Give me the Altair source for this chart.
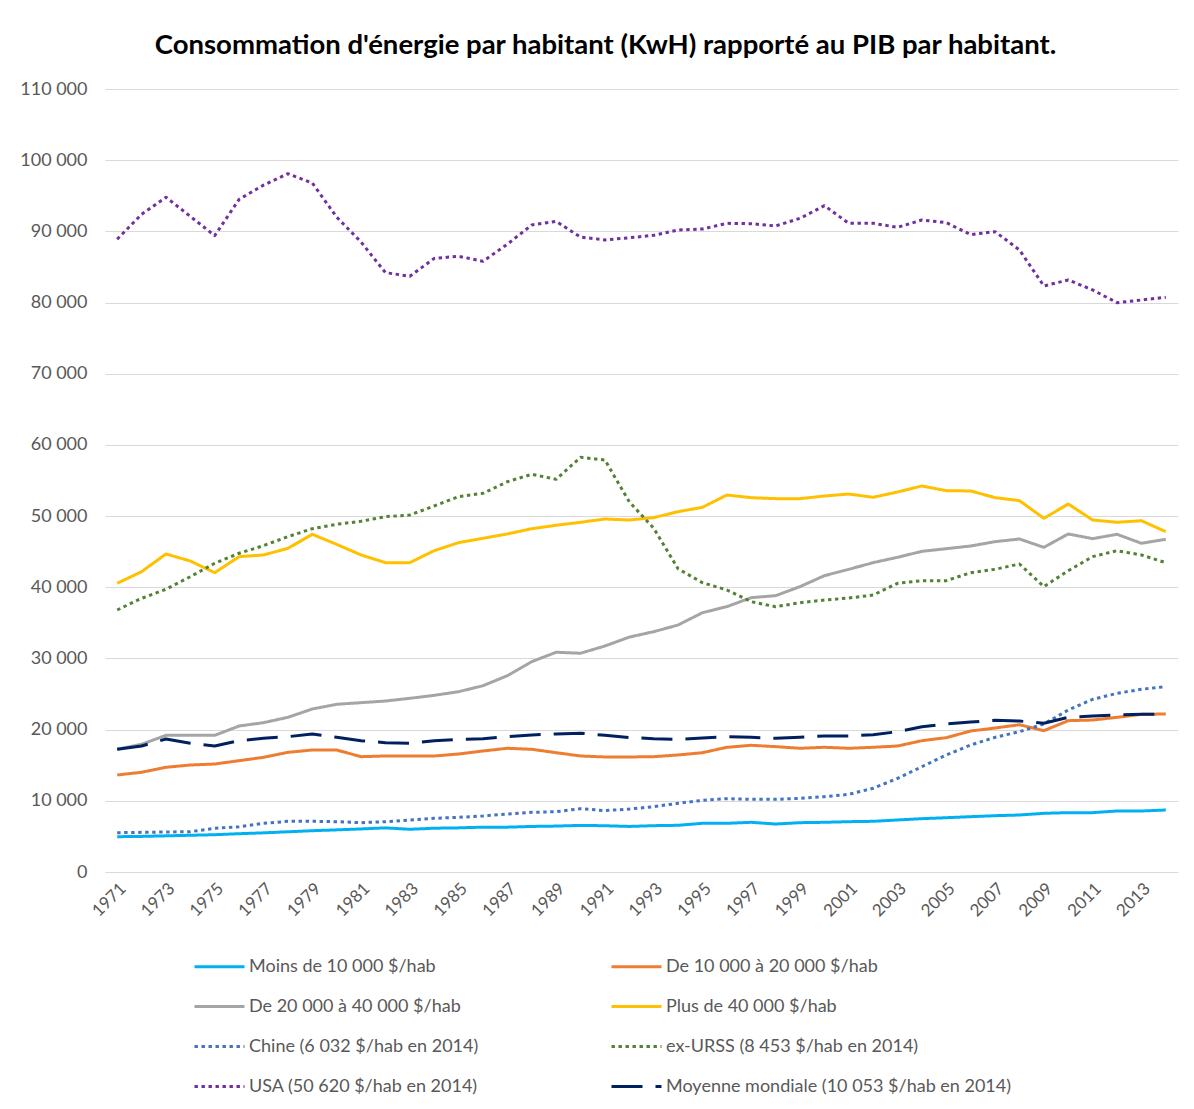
import altair as alt
import pandas as pd

years = list(range(1971, 2015))

series_names = [
    "Moins de 10 000 $/hab",
    "De 10 000 à 20 000 $/hab",
    "De 20 000 à 40 000 $/hab",
    "Plus de 40 000 $/hab",
    "Chine (6 032 $/hab en 2014)",
    "ex-URSS (8 453 $/hab en 2014)",
    "USA (50 620 $/hab en 2014)",
    "Moyenne mondiale (10 053 $/hab en 2014)",
]

moins_10k = [4960, 5000, 5080, 5160, 5240, 5380, 5500, 5650, 5800, 5920, 6050,
             6200, 6000, 6150, 6200, 6300, 6300, 6400, 6450, 6550, 6500, 6400,
             6510, 6560, 6840, 6840, 6980, 6740, 6930, 6980, 7070, 7120, 7310,
             7490, 7630, 7770, 7910, 8010, 8240, 8340, 8340, 8570, 8570, 8710]
de_10_20k = [13630, 14010, 14710, 15030, 15170, 15640, 16110, 16810, 17140, 17140, 16200,
             16300, 16300, 16300, 16580, 17000, 17380, 17240, 16760, 16300, 16160, 16160,
             16200, 16440, 16760, 17520, 17800, 17610, 17380, 17520, 17380, 17520, 17700,
             18450, 18870, 19810, 20230, 20690, 19850, 21260, 21350, 21730, 22150, 22200]
de_20_40k = [17240, 17940, 19200, 19200, 19200, 20510, 20980, 21730, 22900, 23560, 23790,
             24020, 24400, 24820, 25330, 26170, 27580, 29550, 30870, 30730, 31750, 33000,
             33760, 34700, 36430, 37280, 38540, 38820, 40090, 41630, 42520, 43460, 44210,
             45050, 45420, 45800, 46410, 46780, 45610, 47490, 46830, 47440, 46180, 46740]
plus_40k = [40560, 42190, 44680, 43690, 42050, 44300, 44540, 45470, 47440, 46030, 44540,
            43460, 43460, 45140, 46270, 46880, 47490, 48230, 48710, 49130, 49590, 49450,
            49780, 50620, 51230, 52960, 52590, 52450, 52450, 52820, 53100, 52640, 53390,
            54230, 53570, 53530, 52590, 52170, 49690, 51700, 49450, 49130, 49350, 47810]
chine = [5520, 5570, 5620, 5670, 6130, 6370, 6840, 7120, 7120, 7070, 6930,
         7070, 7310, 7540, 7680, 7870, 8150, 8380, 8470, 8900, 8620, 8850,
         9180, 9650, 10070, 10300, 10210, 10210, 10350, 10580, 10910, 11760, 13160,
         14800, 16440, 17840, 18920, 19710, 20790, 22760, 24260, 25100, 25670, 26040]
ex_urss = [36810, 38450, 39720, 41490, 43370, 44780, 45850, 47110, 48230, 48850, 49270,
           49920, 50150, 51420, 52730, 53200, 54830, 55870, 55170, 58260, 57880, 52000,
           48300, 42600, 40640, 39620, 37970, 37270, 37830, 38210, 38490, 38910, 40560,
           40930, 40930, 42050, 42520, 43270, 40090, 42330, 44300, 45140, 44540, 43460]
usa = [88900, 92400, 94800, 92100, 89400, 94500, 96500, 98100, 96800, 92000, 88500,
       84200, 83700, 86200, 86500, 85800, 88200, 90900, 91400, 89200, 88800, 89100,
       89450, 90190, 90330, 91130, 91080, 90760, 91830, 93610, 91130, 91130, 90570,
       91600, 91220, 89540, 89960, 87390, 82330, 83170, 81770, 79980, 80360, 80740]
moyenne = [17240, 17700, 18690, 18080, 17700, 18450, 18780, 19010, 19390, 18920, 18450,
           18170, 18080, 18450, 18640, 18730, 19010, 19250, 19390, 19490, 19200, 18900,
           18730, 18640, 18830, 19010, 18920, 18780, 18920, 19110, 19110, 19290, 19710,
           20410, 20790, 21070, 21310, 21210, 20890, 21730, 21920, 22060, 22150, 22150]

all_values = [moins_10k, de_10_20k, de_20_40k, plus_40k, chine, ex_urss, usa, moyenne]

colors = ["#00B0F0", "#ED7D31", "#A5A5A5", "#FFC000", "#4472C4", "#548235", "#7030A0", "#002060"]
solid = [1, 0]
dot = [3.4, 3.6]
dash = [31, 13]
dashes = [solid, solid, solid, solid, dot, dot, dot, dash]
widths = [3, 3, 3, 3, 3.4, 3.4, 3.4, 4.5]

# legend reads row by row (two columns), entries fill column-first
legend_order = [0, 2, 4, 6, 1, 3, 5, 7]
dom = [series_names[i] for i in legend_order]
col_rng = [colors[i] for i in legend_order]
dash_rng = [dashes[i] for i in legend_order]
width_rng = [widths[i] for i in legend_order]

rows = []
for name, vals in zip(series_names, all_values):
    for yr, v in zip(years, vals):
        rows.append({"annee": yr, "serie": name, "valeur": v})
df = pd.DataFrame(rows)

odd_years = [y for y in years if (y - 1971) % 2 == 0]

FONT = "Lato"

lg = alt.Legend(
    title=None, orient="none", legendX=88, legendY=851, columns=2,
    symbolType="stroke", symbolSize=2500, labelFont=FONT, labelFontSize=18,
    labelColor="#595959", columnPadding=126, rowPadding=4, labelOffset=3,
    padding=0, labelLimit=400,
)

chart = alt.Chart(df).mark_line(strokeCap="butt", strokeJoin="round").encode(
    x=alt.X("annee:O", sort=years, title=None,
            axis=alt.Axis(values=odd_years, labelAngle=-45, labelFont=FONT,
                          labelFontSize=17, labelColor="#595959", ticks=False,
                          domain=False, grid=False, labelPadding=8)),
    y=alt.Y("valeur:Q", title=None,
            scale=alt.Scale(domain=[0, 110000], nice=False, zero=True),
            axis=alt.Axis(values=list(range(0, 110001, 10000)),
                          labelExpr="replace(format(datum.value, ','), ',', ' ')",
                          labelFont=FONT, labelFontSize=18, labelColor="#595959",
                          ticks=False, domain=False, gridColor="#D9D9D9",
                          gridWidth=1.2, labelPadding=18)),
    color=alt.Color("serie:N", sort=dom,
                    scale=alt.Scale(domain=dom, range=col_rng), legend=lg),
    strokeDash=alt.StrokeDash("serie:N", sort=dom,
                              scale=alt.Scale(domain=dom, range=dash_rng), legend=lg),
    strokeWidth=alt.StrokeWidth("serie:N", sort=dom,
                                scale=alt.Scale(domain=dom, range=width_rng), legend=lg),
    order=alt.Order("annee:O"),
).properties(
    width=1073, height=783,
    title=alt.TitleParams(
        "Consommation d'énergie par habitant (KwH) rapporté au PIB par habitant.",
        font=FONT, fontSize=27.5, fontWeight="bold", color="#000000",
        anchor="middle", dx=-36, offset=21),
    autosize=alt.AutoSizeParams(type="none"),
    padding={"left": 97, "top": 81, "right": 8, "bottom": 225},
).configure_view(stroke=None)

chart.save("out.html", embed_options={"renderer": "svg", "actions": False})
